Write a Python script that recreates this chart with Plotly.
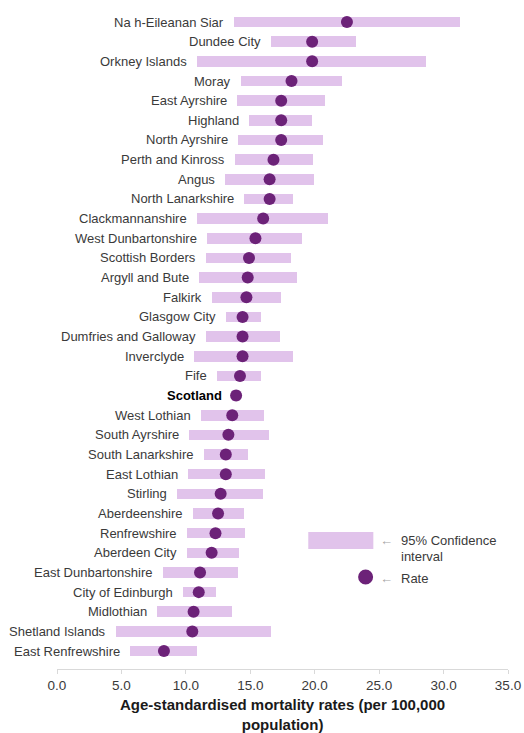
import plotly.graph_objects as go

areas = [
    "Na h-Eileanan Siar", "Dundee City", "Orkney Islands", "Moray", "East Ayrshire",
    "Highland", "North Ayrshire", "Perth and Kinross", "Angus", "North Lanarkshire",
    "Clackmannanshire", "West Dunbartonshire", "Scottish Borders", "Argyll and Bute",
    "Falkirk", "Glasgow City", "Dumfries and Galloway", "Inverclyde", "Fife", "Scotland",
    "West Lothian", "South Ayrshire", "South Lanarkshire", "East Lothian", "Stirling",
    "Aberdeenshire", "Renfrewshire", "Aberdeen City", "East Dunbartonshire",
    "City of Edinburgh", "Midlothian", "Shetland Islands", "East Renfrewshire",
]
rate = [22.5, 19.8, 19.8, 18.2, 17.4, 17.4, 17.4, 16.8, 16.5, 16.5, 16.0, 15.4, 14.9,
        14.8, 14.7, 14.4, 14.4, 14.4, 14.2, 13.9, 13.6, 13.3, 13.1, 13.1, 12.7, 12.5,
        12.3, 12.0, 11.1, 11.0, 10.6, 10.5, 8.3]
lower = [13.7, 16.6, 10.9, 14.3, 14.0, 14.9, 14.05, 13.85, 13.05, 14.55, 10.9, 11.65,
         11.6, 11.05, 12.0, 13.1, 11.55, 10.6, 12.4, 13.6, 11.2, 10.25, 11.4, 10.15,
         9.35, 10.55, 10.1, 10.1, 8.25, 9.75, 7.75, 4.55, 5.65]
upper = [31.25, 23.2, 28.6, 22.15, 20.8, 19.8, 20.65, 19.9, 19.95, 18.35, 21.05, 19.05,
         18.15, 18.6, 17.4, 15.8, 17.3, 18.3, 15.85, 14.2, 16.05, 16.45, 14.85, 16.15,
         15.95, 14.5, 14.6, 14.1, 14.05, 12.35, 13.55, 16.6, 10.9]
x_ticks = [0, 5, 10, 15, 20, 25, 30, 35]
tick_labels = ["0.0", "5.0", "10.0", "15.0", "20.0", "25.0", "30.0", "35.0"]
x_title = "Age-standardised mortality rates (per 100,000<br>population)"

BAR = "#E1C3EB"
DOT = "#6C2278"
TXT = "#3A3A3A"
FONT = "Liberation Sans, Arial, sans-serif"

fig = go.Figure()
fig.add_trace(go.Bar(
    y=areas, x=[u - l for u, l in zip(upper, lower)], base=lower,
    orientation="h", marker=dict(color=BAR, line=dict(width=0)), width=0.54,
    hoverinfo="skip",
))
fig.add_trace(go.Scatter(
    y=areas, x=rate, mode="markers",
    marker=dict(size=12, color=DOT, line=dict(width=0)), hoverinfo="skip",
))

annotations = []
for name, lo in zip(areas, lower):
    bold = name == "Scotland"
    annotations.append(dict(
        x=lo, y=name, xref="x", yref="y", xanchor="right", yanchor="middle",
        xshift=-8, showarrow=False,
        text=f"<b>{name}</b>" if bold else name,
        font=dict(family=FONT, size=13, color="#000000" if bold else TXT),
    ))

# pixel rows converted to paper: plot area top=12, bottom=669
def py(p):
    return (669 - p) / 657

annotations += [
    dict(x=25.6, y=py(540), xref="x", yref="paper", xanchor="center", yanchor="middle",
         showarrow=False, text="←", font=dict(family=FONT, size=13, color="#A6A6A6")),
    dict(x=25.6, y=py(578), xref="x", yref="paper", xanchor="center", yanchor="middle",
         showarrow=False, text="←", font=dict(family=FONT, size=13, color="#A6A6A6")),
    dict(x=26.55, y=py(540), xref="x", yref="paper", xanchor="left", yanchor="middle",
         showarrow=False, text="95% Confidence", font=dict(family=FONT, size=13, color=TXT)),
    dict(x=26.55, y=py(556), xref="x", yref="paper", xanchor="left", yanchor="middle",
         showarrow=False, text="interval", font=dict(family=FONT, size=13, color=TXT)),
    dict(x=26.55, y=py(578), xref="x", yref="paper", xanchor="left", yanchor="middle",
         showarrow=False, text="Rate", font=dict(family=FONT, size=13, color=TXT)),
    # axis title
    dict(x=0.5, y=py(715), xref="paper", yref="paper", xanchor="center", yanchor="middle",
         showarrow=False, align="center", text=f"<b>{x_title}</b>",
         font=dict(family=FONT, size=15, color="#1A1A1A")),
]
shapes = [
    dict(type="rect", xref="x", yref="paper", x0=19.5, x1=24.55, y0=py(549), y1=py(532),
         fillcolor=BAR, line=dict(width=0)),
    dict(type="circle", xref="x", yref="paper", xsizemode="pixel", ysizemode="pixel",
         xanchor=23.95, yanchor=py(577), x0=-7.5, x1=7.5, y0=-7.5, y1=7.5,
         fillcolor=DOT, line=dict(width=0)),
]

fig.update_layout(
    width=524, height=733,
    margin=dict(l=57, r=16, t=12, b=64),
    paper_bgcolor="white", plot_bgcolor="white",
    showlegend=False, bargap=0,
    annotations=annotations, shapes=shapes,
    font=dict(family=FONT),
    xaxis=dict(
        range=[0, 35], tickvals=x_ticks, ticktext=tick_labels, automargin=False,
        ticklabeloverflow="allow",
        showgrid=False, zeroline=False, showline=True, linecolor="#D9D9D9", linewidth=1,
        ticks="outside", ticklen=4, tickcolor="#D9D9D9",
        tickfont=dict(family=FONT, size=13.5, color=TXT),
    ),
    yaxis=dict(
        type="category", categoryorder="array", categoryarray=areas, automargin=False,
        range=[32.91, -0.51], showticklabels=False, showgrid=False,
        zeroline=False, showline=False, ticks="",
    ),
)

# remove the page's default body margin so the 524x733 figure fills the window exactly
fig.write_html(
    "out.html",
    config={"displayModeBar": False},
    post_script="document.body.style.margin='0';document.body.style.overflow='hidden';",
)
